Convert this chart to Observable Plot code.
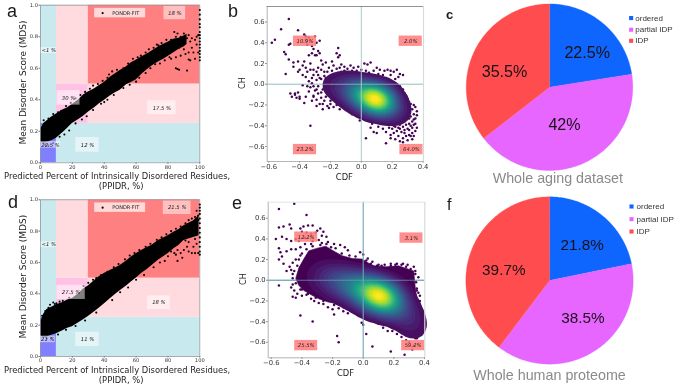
<!DOCTYPE html>
<html><head><meta charset="utf-8">
<script src="https://cdn.jsdelivr.net/npm/d3@7"></script>
<script src="https://cdn.jsdelivr.net/npm/@observablehq/plot@0.6"></script>
<style>
html,body{margin:0;padding:0;background:#fff}
#root{position:relative;width:676px;height:387px;overflow:hidden;filter:blur(.35px)}
.tag{position:absolute;font-family:"Liberation Sans",sans-serif;color:#1a1a1a;line-height:1}
</style></head><body><div id="root"></div>
<script>
// ---------- CH-CDF / PONDR data ----------
const regionNames = ["ordered","lowPPIDR","lowMDS","partial","partialLight","partialLight2","idp"];
const regionX1 = [0,0,10,10,10,30,30];
const regionX2 = [10,10,100,30,30,100,100];
const regionY1 = [0,.25,0,.25,.5,.25,.5];
const regionY2 = [.25,1,.25,.5,1,.5,1];

const aBandX =    [0.5,2,4,7,10,14,17,20,24,27,30,34,37,40,44,47,50,54,57,60,64,67,70,74,77,80,84,87,90,92];
const aBandLow =  [.13,.125,.13,.14,.155,.19,.22,.25,.275,.295,.32,.35,.375,.395,.425,.445,.46,.495,.51,.525,.565,.59,.615,.64,.655,.675,.70,.72,.735,.75];
const aBandHigh = [.22,.25,.265,.29,.31,.335,.35,.37,.40,.43,.45,.47,.49,.51,.545,.565,.585,.61,.635,.65,.675,.69,.71,.735,.75,.765,.785,.79,.805,.815];
const aDots = [[2,.27],[5,.28],[8,.31],[11,.32],[13,.33],[16,.36],[19,.38],[22,.41],[25,.43],[28,.45],[31,.47],[33,.49],[36,.50],[39,.52],[42,.54],[45,.58],[43,.56],[48,.59],[52,.60],[55,.63],[58,.66],[61,.67],[63,.68],[66,.70],[68,.72],[71,.73],[73,.75],[76,.76],[74,.745],[79,.78],[82,.78],[85,.80],[84,.83],[86,.82],[88,.80],[90,.82],[92,.79],[93,.81],[94,.77],[95,.79],[97,.78],[98,.80],[99,.81],[89,.75],[87,.73],[90,.72],[93,.70],[91,.69],[88,.68],[85,.67],[82,.66],[95,.73],[96,.70],[100,.97],[100,.94],[100,.91],[100,.88],[100,.86],[100,.83],[100,.81],[100,.79],[100,.77],[100,.75],[100,.73],[100,.71],[100,.69],[100,.67],[100,.65],[99,.70],[98,.75],[94,.65],[97,.66],[93,.655],[85,.60],[86,.595],[87,.59],[92,.585],[3,.115],[5,.11],[8,.125],[12,.165],[15,.18],[18,.205],[22,.25],[26,.275],[29,.295],[33,.335],[38,.375],[42,.40],[46,.43],[52,.475],[56,.495],[62,.54],[66,.57],[69,.60],[72,.625],[78,.65],[81,.67],[60,.515],[75,.63],[40,.385]];

const dBandX =    [0.5,2,4,7,10,14,17,20,24,27,30,34,37,40,44,47,50,54,57,60,64,67,70,74,77,80,84,87,90,93,96,99.5];
const dBandLow =  [.13,.125,.125,.135,.145,.165,.18,.19,.215,.235,.255,.285,.31,.335,.37,.395,.42,.45,.475,.50,.535,.555,.58,.615,.635,.655,.69,.71,.74,.75,.76,.77];
const dBandHigh = [.23,.27,.30,.315,.33,.345,.36,.37,.40,.43,.45,.485,.51,.53,.55,.565,.58,.61,.635,.655,.68,.695,.71,.74,.755,.77,.795,.81,.835,.85,.865,.90];
const dDots = [[1,.26],[3,.29],[5,.31],[6,.33],[9,.335],[8,.345],[10,.34],[14,.355],[12,.35],[18,.375],[27,.45],[30,.47],[33,.49],[35,.50],[38,.52],[42,.54],[46,.57],[49,.59],[53,.62],[56,.645],[59,.66],[62,.68],[66,.70],[69,.72],[73,.745],[76,.76],[79,.78],[82,.80],[85,.815],[88,.83],[91,.85],[93,.87],[95,.88],[97,.89],[99,.90],[100,.97],[100,.95],[100,.93],[100,.91],[100,.88],[100,.85],[100,.82],[100,.79],[100,.76],[100,.73],[100,.70],[100,.67],[100,.65],[98,.93],[99,.87],[97,.75],[98,.72],[96,.70],[95,.66],[97,.66],[99,.66],[93,.73],[92,.70],[90,.68],[88,.66],[91,.74],[86,.68],[85,.65],[89,.63],[86,.61],[93,.67],[84,.66],[80,.64],[78,.61],[71,.57],[65,.52],[60,.49],[55,.44],[50,.41],[45,.36],[35,.28],[28,.23],[22,.195],[16,.17],[11,.14],[7,.12],[4,.115],[75,.60],[82,.67]];

// density kernels: CDF, CH, weight
const bKernel = [[-.21,.0,.5],[-.15,-.02,.9],[-.09,-.05,1.5],[-.04,-.075,2.4],[.01,-.1,3.8],[.055,-.125,5.5],[.1,-.148,7.5],[.145,-.17,4.6],[.19,-.2,2],[.23,-.24,.8],[.27,-.29,.35]];
const eKernel = [[-.32,.05,.35],[-.26,.03,.8],[-.2,.01,1.3],[-.14,-.02,1.9],[-.08,-.05,2.6],[-.02,-.08,3.6],[.04,-.115,5.2],[.105,-.15,9],[.155,-.18,5],[.2,-.22,2.6],[.25,-.28,1.4],[.3,-.37,.85],[.34,-.47,.7]];

const bDots = [[-.47,.63],[-.52,.53],[-.41,.52],[-.56,.43],[-.58,.40],[-.46,.39],[-.47,.38],[-.37,.48],[-.36,.46],[-.34,.45],[-.36,.43],[-.30,.46],[-.29,.40],[-.27,.42],[-.35,.38],[-.32,.37],[-.31,.34],[-.15,.35],[-.50,.31],[-.49,.29],[-.47,.24],[-.44,.21],[-.41,.22],[-.37,.22],[-.34,.28],[-.32,.30],[-.30,.28],[-.28,.32],[-.29,.28],[-.27,.30],[-.16,.30],[-.15,.26],[-.14,.28],[-.49,.10],[-.44,.17],[-.40,.14],[-.38,.18],[-.36,.16],[-.33,.20],[-.31,.14],[-.28,.16],[-.33,.14],[-.35,.12],[-.38,.09],[-.41,.12],[-.36,.07],[-.31,.09],[-.29,.12],[-.26,.14],[-.25,.19],[-.26,.23],[-.23,.21],[-.21,.16],[-.22,.12],[-.18,.18],[-.16,.15],[-.13,.19],[-.11,.17],[-.09,.15],[-.07,.18],[-.05,.16],[-.02,.17],[0,.14],[.02,.20],[.04,.19],[.06,.21],[.1,.16],[.12,.14],[.15,.13],[.17,.14],[.19,.13],[.21,.12],[.23,.14],[.25,.10],[.27,.09],[.22,.05],[.24,.07],[.19,.09],[.16,.06],[.14,.09],[.11,.10],[.08,.13],[.05,.11],[.01,.10],[-.03,.13],[-.06,.10],[-.1,.11],[-.13,.12],[-.17,.09],[-.2,.08],[-.23,.06],[-.26,.05],[-.29,.04],[-.32,.01],[-.34,.03],[-.38,-.01],[-.33,-.03],[-.30,-.06],[-.28,-.09],[-.31,-.12],[-.26,-.13],[-.24,-.16],[-.27,-.19],[-.29,-.21],[-.22,-.21],[-.2,-.19],[-.18,-.22],[-.25,-.24],[-.15,-.17],[-.12,-.19],[-.14,-.24],[-.1,-.21],[-.08,-.25],[-.06,-.29],[-.03,-.24],[-.05,-.19],[-.02,-.3],[0,-.28],[.02,-.33],[.05,-.35],[.03,-.27],[.07,-.31],[.09,-.36],[.12,-.33],[.14,-.38],[.11,-.41],[.08,-.46],[.1,-.47],[.03,-.52],[.16,-.57],[.16,-.46],[.18,-.42],[.19,-.49],[.21,-.47],[.22,-.53],[.24,-.5],[.25,-.55],[.27,-.52],[.28,-.47],[.3,-.54],[.31,-.49],[.33,-.53],[.34,-.5],[.35,-.45],[.33,-.42],[.3,-.43],[.27,-.41],[.25,-.39],[.22,-.41],[.24,-.36],[.2,-.37],[.18,-.35],[.28,-.36],[.31,-.38],[.33,-.36],[.35,-.33],[.34,-.29],[.36,-.26],[.35,-.22],[.33,-.24],[.31,-.27],[.3,-.22],[.32,-.19],[.28,-.17],[.3,-.14],[.26,-.12],[.28,-.09],[.24,-.08],[.21,-.03],[.17,-.02],[.14,.02],[.1,.04],[.06,.06],[.02,.07],[-.02,.08],[.29,-.31],[.26,-.31],[-.46,-.09],[-.45,-.12],[-.43,-.10],[-.42,-.13],[-.40,-.12],[-.43,-.09],[-.37,-.18],[-.41,-.08],[-.40,-.14],[-.33,-.40],[-.31,-.11],[-.35,-.02],[.18,-.30],[.21,-.33],[.23,-.29],[.35,-.38],[.33,-.47],[-.24,.08],[-.2,.04],[-.16,.06],[-.12,.07],[-.08,.06],[-.28,-.02],[-.25,-.05],[-.22,-.09],[-.19,-.12],[-.16,-.13],[-.13,-.15],[-.1,-.17],[-.07,-.19],[-.04,-.22],[0,-.22],[.04,-.24],[.08,-.27],[.12,-.29],[.16,-.3],[.2,-.27],[.25,-.25],[.28,-.24],[.26,-.18],[.23,-.13],[.2,-.09],[.16,-.06],[.12,-.03],[.08,0],[.03,.02],[-.03,.04]];
const bDotsDense = [[-.19,.13],[-.15,.11],[-.11,.13],[-.09,.09],[-.06,.13],[-.14,.16],[-.21,.06],[-.18,.03],[-.14,.04],[-.1,.05],[-.05,.07],[0,.11],[.03,.13],[.07,.09],[.09,.07],[.13,.05],[.17,.04],[.2,.02],[.25,-.02],[.27,-.05],[.29,-.11],[.31,-.17],[.34,-.2],[.36,-.3],[.34,-.34],[.32,-.31],[.31,-.33],[.29,-.27],[.27,-.28],[.27,-.33],[.25,-.33],[.23,-.33],[.22,-.37],[.26,-.36],[.29,-.39],[.32,-.4],[.34,-.39],[.36,-.42],[.31,-.44],[.28,-.44],[.25,-.43],[.23,-.45],[.2,-.43],[.17,-.39],[.15,-.35],[.12,-.36],[.1,-.32],[.06,-.29],[.02,-.25],[-.01,-.25],[-.05,-.23],[-.09,-.22],[-.12,-.22],[-.16,-.2],[-.2,-.16],[-.23,-.12],[-.26,-.08],[-.29,-.05],[-.31,-.02],[-.27,.06],[-.32,.06],[-.24,.12],[-.19,.22],[-.28,.09],[-.34,-.07],[-.36,-.12],[-.32,-.16],[-.29,-.15],[-.25,-.19],[-.21,-.23],[.19,-.52],[.27,-.56],[.29,-.5],[.32,-.5],[.26,-.46],[.24,-.42],[.21,-.4],[.18,-.38],[.14,-.43],[.13,-.31],[.07,-.38],[.06,-.42],[.01,-.3],[-.01,-.35]];

const eHull = [[-.44,.02],[-.42,.12],[-.39,.2],[-.355,.285],[-.3,.31],[-.245,.33],[-.19,.28],[-.137,.237],[-.07,.21],[-.007,.205],[.03,.17],[.07,.14],[.15,.13],[.23,.14],[.33,.09],[.335,0],[.34,-.07],[.35,-.17],[.36,-.26],[.365,-.4],[.365,-.55],[.32,-.55],[.26,-.49],[.21,-.45],[.15,-.41],[.08,-.37],[.02,-.32],[-.03,-.28],[-.1,-.25],[-.16,-.23],[-.23,-.21],[-.29,-.18],[-.34,-.14],[-.387,-.10],[-.42,-.05]];
const eDots = [[-.45,.74],[-.55,.69],[-.37,.63],[-.55,.51],[-.52,.52],[-.48,.54],[-.47,.5],[-.41,.5],[-.39,.52],[-.36,.53],[-.33,.53],[-.3,.48],[-.28,.5],[-.26,.47],[-.4,.47],[-.37,.46],[-.34,.45],[-.31,.46],[-.27,.43],[-.24,.42],[-.57,.4],[-.53,.42],[-.5,.4],[-.47,.38],[-.44,.4],[-.42,.38],[-.38,.41],[-.33,.38],[-.29,.39],[-.55,.31],[-.54,.27],[-.53,.23],[-.5,.28],[-.47,.3],[-.44,.3],[-.41,.32],[-.38,.35],[-.34,.35],[-.27,.36],[-.23,.37],[-.19,.35],[-.15,.34],[-.12,.32],[-.21,.32],[-.1,.29],[-.02,.27],[0,.25],[.03,.21],[.06,.18],[.1,.15],[-.55,.2],[-.52,.16],[-.48,.13],[-.46,.17],[-.44,.2],[-.41,.24],[-.5,.09],[-.47,.1],[-.46,.06],[-.55,-.05],[-.46,-.04],[-.47,-.07],[-.45,-.1],[-.43,-.13],[-.41,-.09],[-.44,-.17],[-.46,-.16],[-.4,-.15],[-.37,-.14],[-.34,-.18],[-.32,-.2],[-.29,-.22],[-.26,-.23],[-.23,-.26],[-.2,-.28],[-.16,-.27],[-.13,-.3],[-.1,-.32],[-.03,-.33],[.01,-.36],[.04,-.38],[-.19,-.33],[-.41,-.34],[-.33,-.4],[-.17,-.54],[-.16,-.6],[-.01,-.41],[.0,-.43],[.02,-.52],[.06,-.64],[.1,-.42],[.13,-.46],[.16,-.49],[.19,-.49],[.18,-.69],[.22,-.52],[.25,-.55],[.27,-.72],[.3,-.6],[.32,-.67],[.28,-.58],[.34,-.56],[.33,-.63],[.36,.03],[.34,.09],[.33,.13],[.29,.15],[.26,.16],[.22,.16],[.18,.16],[.14,.15],[.36,-.12],[.37,-.2],[.35,-.08],[.37,-.3],[.37,-.38],[.37,-.47],[.36,-.52],[.37,-.15],[-.43,.14],[-.45,.09],[-.46,.02],[-.44,-.03],[-.42,.2],[-.4,.26],[-.37,.3],[-.33,.33],[-.28,.34],[-.24,.35],[-.18,.31],[-.14,.26],[-.09,.24],[-.05,.23],[.02,.19],[.05,.16],[.09,.14],[.12,.14],[.18,.14],[.21,.15],[.25,.15],[.28,.13],[.31,.11],[.34,.06],[.345,-.02],[.35,-.1],[.36,-.2],[.37,-.25],[.375,-.34],[.375,-.43],[.35,-.56],[.3,-.54],[.28,-.52],[.24,-.48],[.19,-.46],[.12,-.4],[.05,-.36],[0,-.32],[-.06,-.28],[-.13,-.26],[-.19,-.24],[-.26,-.2],[-.31,-.17],[-.36,-.13],[-.4,-.09]];

const aLabels = ["18 %","<1 %","30 %","17.5 %","12 %","22.5 %"];
const aLabelX = [84.3,5.2,17.6,76.2,29.5,6.3];
const aLabelY = [.95,.712,.412,.349,.114,.114];
const dLabels = ["21.5 %","<1 %","27.5 %","18 %","11 %","21 %"];
const dLabelX = [85.8,5.2,19.2,74.3,29.5,4.6];
const dLabelY = [.949,.713,.409,.343,.109,.109];
const labelHalfW = {a:[6.8,4.8,7.2,8.9,7.4,6.2],d:[8.7,4.8,8.9,7.2,7.4,4.7]};
const labelHalfH = {a:[.042,.019,.046,.045,.047,.021],d:[.043,.019,.045,.044,.046,.021]};

const bLabels = ["10.9%","2.0%","23.2%","64.0%"];
const bLabelX = [-.365,.32,-.365,.325];
const bLabelY = [.415,.415,-.63,-.63];
const eLabels = ["12.2%","3.1%","25.5%","59.2%"];
const eLabelX = [-.372,.315,-.372,.326];
const eLabelY = [.417,.408,-.632,-.632];

const pieCats = ["ordered","partial IDP","IDP"];
const cValues = [22.5,42,35.5];
const fValues = [21.8,38.5,39.7];
const cText = ["22.5%","42%","35.5%"];
const fText = ["21.8%","38.5%","39.7%"];
const cTextX = [.453,.18,-.54], cTextY = [.408,-.456,.18];
const fTextX = [.39,.40,-.546], fTextY = [.426,-.45,.127];

// ---------- helpers ----------
const root = document.getElementById("root");
const mono = "DejaVu Sans, sans-serif";
function place(svg,left,top){svg.style.position="absolute";svg.style.left=left+"px";svg.style.top=top+"px";svg.style.overflow="visible";svg.style.background="none";svg.style.maxWidth="none";root.appendChild(svg);}
function tag(t,x,y,size,weight){const d=document.createElement("div");d.className="tag";d.textContent=t;d.style.left=x+"px";d.style.top=y+"px";d.style.fontSize=size+"px";if(weight)d.style.fontWeight=weight;root.appendChild(d);}

const regionFill = d3.scaleOrdinal(regionNames,["#8080ff","#c8e9ee","#c8e9ee","#ffc2e4","#ffdadf","#ffdadf","#ff8080"]);

function pondr(opts){
  const {bx,low,high,dots,labels,lx,ly,hw,hh,top,left,keyY} = opts;
  const idx = d3.range(labels.length);
  const plot = Plot.plot({
    width:232,height:195,marginLeft:40,marginRight:32.7,marginTop:opts.mt,marginBottom:195-opts.mb,
    x:{domain:[0,100],axis:null},y:{domain:[0,1],axis:null},
    style:{fontFamily:mono},
    marks:[
      Plot.rect(regionNames,{x1:(d,i)=>regionX1[i],x2:(d,i)=>regionX2[i],y1:(d,i)=>regionY1[i],y2:(d,i)=>regionY2[i],fill:d=>regionFill(d)}),
      Plot.frame({stroke:"#8f9aa0",strokeWidth:.8}),
      Plot.areaY(bx,{x:d=>d,y1:(d,i)=>low[i],y2:(d,i)=>high[i],fill:"#000"}),
      Plot.dot(dots,{x:d=>d[0],y:d=>d[1],r:1.05,fill:"#000"}),
      Plot.rect(idx,{x1:i=>lx[i]-hw[i],x2:i=>lx[i]+hw[i],y1:i=>ly[i]-hh[i],y2:i=>ly[i]+hh[i],fill:"#fff",fillOpacity:.5}),
      Plot.text(idx,{x:i=>lx[i],y:i=>ly[i],text:i=>labels[i],fontSize:5.3,fontStyle:"italic",fill:"#222"}),
      Plot.rect([0],{x1:34,x2:66,y1:keyY-.03,y2:keyY+.03,fill:"#fff",fillOpacity:.7}),
      Plot.dot([0],{x:39,y:keyY,r:1.1,fill:"#000"}),
      Plot.text(["PONDR-FIT"],{x:45,y:keyY,textAnchor:"start",fontSize:5,fill:"#222"}),
      Plot.axisX({ticks:[0,20,40,60,80,100],tickSize:1.5,tickPadding:.5,fontSize:5.2,label:null,stroke:"#777",color:"#333"}),
      Plot.axisY({ticks:[0,.2,.4,.6,.8,1],tickSize:1.5,tickPadding:1,fontSize:5.2,label:null,tickFormat:d3.format(".1f"),stroke:"#777",color:"#333"}),
      Plot.text(["Mean Disorder Score (MDS)"],{frameAnchor:"left",textAnchor:"middle",rotate:-90,dx:-17.5,dy:-1.5,fontSize:9,fill:"#222"}),
      Plot.text(["Predicted Percent of Intrinsically Disordered Residues,"],{frameAnchor:"bottom",textAnchor:"middle",dy:opts.xl1,dx:-3,fontSize:8.4,fill:"#222"}),
      Plot.text(["(PPIDR, %)"],{frameAnchor:"bottom",textAnchor:"middle",dy:opts.xl2,dx:1,fontSize:8.4,fill:"#222"})
    ]
  });
  place(plot,left,top);
}

function chcdf(opts){
  const {kernel,hull,dots,labels,lx,ly,left,top,w,h,ml,mt,xd,yd,ruleStroke} = opts;
  const idx = d3.range(labels.length);
  const plot = Plot.plot({
    width:w,height:h,marginLeft:ml,marginRight:w-opts.pr,marginTop:mt,marginBottom:h-opts.pb,
    x:{domain:xd,axis:null},y:{domain:yd,axis:null},
    color:{scheme:"viridis",type:"linear"},
    style:{fontFamily:mono},
    marks:[
      Plot.ruleY([0],{stroke:ruleStroke,strokeWidth:1.1}),
      ...(hull?[Plot.line(hull,{x:d=>d[0],y:d=>d[1],curve:"linear-closed",fill:"#440154",stroke:"#440154",strokeWidth:.6})]:[]),
      Plot.dot(dots,{x:d=>d[0],y:d=>d[1],r:1.25,fill:"#440154"}),
      Plot.density(kernel,{x:d=>d[0],y:d=>d[1],weight:d=>d[2],bandwidth:opts.bw,thresholds:opts.th,fill:"density",stroke:null}),
      Plot.ruleX([0],{stroke:ruleStroke,strokeWidth:opts.vw,strokeOpacity:opts.vo}),
      Plot.ruleY([0],{stroke:ruleStroke,strokeWidth:1.1,strokeOpacity:opts.vo*.7}),
      Plot.rect(idx,{x1:i=>lx[i]-opts.bhw,x2:i=>lx[i]+opts.bhw,y1:i=>ly[i]-.05,y2:i=>ly[i]+.05,fill:"#ff7b7b",fillOpacity:.85}),
      Plot.text(idx,{x:i=>lx[i],y:i=>ly[i],text:i=>labels[i],fontSize:5.3,fontStyle:"italic",fill:"#3a1a20"}),
      Plot.axisX({ticks:[-.6,-.4,-.2,0,.2,.4],tickSize:1.5,tickPadding:1,fontSize:6.8,label:null,tickFormat:d3.format(".1f"),stroke:"#777",color:"#333"}),
      Plot.axisY({ticks:[-.6,-.4,-.2,0,.2,.4,.6],tickSize:1.5,tickPadding:1,fontSize:6.8,label:null,tickFormat:d3.format(".1f"),stroke:"#777",color:"#333"}),
      Plot.ruleX([xd[0]],{stroke:"#9aa0a3",strokeWidth:.8}),
      Plot.ruleX([xd[1]],{stroke:"#d4dcdc",strokeWidth:1.2}),
      Plot.ruleY([yd[0]],{stroke:"#9aa5aa",strokeWidth:.8}),
      Plot.ruleY([yd[1]],{stroke:opts.topStroke,strokeWidth:.8}),
      Plot.text(["CH"],{frameAnchor:"left",textAnchor:"middle",rotate:-90,dx:-25,dy:-1,fontSize:8.2,fill:"#222"}),
      Plot.text(["CDF"],{frameAnchor:"bottom",textAnchor:"middle",dy:opts.xl,dx:-1,fontSize:8.4,fill:"#222"})
    ]
  });
  place(plot,left,top);
}

function pie(opts){
  const {values,texts,tx,ty,left,top,cx,cy,R,title,titleX,titleY,legendY,legendX,legendTX} = opts;
  const w=236,h=195;
  const wedge=[];
  let acc=0;
  values.forEach((v,i)=>{
    const a0=acc/100*2*Math.PI; acc+=v; const a1=acc/100*2*Math.PI;
    wedge.push({c:pieCats[i],x:0,y:0});
    for(let a=a0;a<a1;a+=Math.PI/180) wedge.push({c:pieCats[i],x:Math.sin(a),y:Math.cos(a)});
    wedge.push({c:pieCats[i],x:Math.sin(a1),y:Math.cos(a1)});
  });
  const idx=d3.range(3);
  const plot=Plot.plot({
    width:w,height:h,margin:0,
    x:{domain:[-cx/R,(w-cx)/R],range:[0,w],axis:null},
    y:{domain:[-(h-cy)/R,cy/R],range:[h,0],axis:null},
    color:{domain:pieCats,range:["#0f66ff","#e666ff","#ff4d4f"]},
    marks:[
      Plot.line(wedge,{x:"x",y:"y",z:"c",fill:"c",stroke:"c",strokeWidth:.3,curve:"linear-closed"}),
      Plot.text(idx,{x:i=>tx[i],y:i=>ty[i],text:i=>texts[i],fontFamily:"Liberation Sans, Arial, sans-serif",fontSize:opts.fs,fill:"#1a1016"}),
      Plot.dot(idx,{x:()=>legendX,y:i=>legendY[i],symbol:"square",r:2.3,fill:i=>pieCats[i]}),
      Plot.text(idx,{x:()=>legendTX,y:i=>legendY[i],text:i=>pieCats[i],textAnchor:"start",fontFamily:"Liberation Sans, Arial, sans-serif",fontSize:8,fill:"#333"}),
      Plot.text([title],{x:titleX,y:titleY,fontFamily:"Liberation Sans, Arial, sans-serif",fontSize:14.3,fill:"#8a8a8a"})
    ]
  });
  place(plot,left,top);
}

pondr({bx:aBandX,low:aBandLow,high:aBandHigh,dots:aDots,labels:aLabels,lx:aLabelX,ly:aLabelY,hw:labelHalfW.a,hh:labelHalfH.a,left:0,top:0,mt:4.7,mb:162.3,keyY:.95,xl1:16.5,xl2:26.5});
pondr({bx:dBandX,low:dBandLow,high:dBandHigh,dots:dDots,labels:dLabels,lx:dLabelX,ly:dLabelY,hw:labelHalfW.d,hh:labelHalfH.d,left:0,top:190,mt:9.3,mb:166,keyY:.95,xl1:16.5,xl2:26.5});

chcdf({kernel:bKernel,dots:bDots.concat(bDotsDense),labels:bLabels,lx:bLabelX,ly:bLabelY,left:225,top:0,w:220,h:195,ml:41.7,mt:6,pr:198,pb:161,xd:[-.61,.403],yd:[-.745,.75],ruleStroke:"#a8c9cc",vw:1.1,vo:.9,bw:8,th:24,bhw:.075,xl:18,topStroke:"#777"});
chcdf({kernel:eKernel,hull:eHull,dots:eDots,labels:eLabels,lx:eLabelX,ly:eLabelY,left:225,top:190,w:220,h:197,ml:42.7,mt:11.7,pr:199.3,pb:167.3,xd:[-.62,.402],yd:[-.75,.755],ruleStroke:"#6fa3b5",vw:1.1,vo:1,bw:9,th:28,bhw:.075,xl:18,topStroke:"#d8dfe0"});

pie({values:cValues,texts:cText,tx:cTextX,ty:cTextY,left:440,top:0,cx:109,cy:86.7,R:83.3,fs:16.1,title:"Whole aging dataset",titleX:.1,titleY:-1.097,legendY:[.83,.69,.557],legendX:.98,legendTX:1.03});
pie({values:fValues,texts:fText,tx:fTextX,ty:fTextY,left:440,top:190,cx:109,cy:90,R:83.7,fs:15.3,title:"Whole human proteome",titleX:0,titleY:-1.135,legendY:[.884,.733,.585],legendX:.98,legendTX:1.04});

tag("a",7,2,18);tag("b",228,2,18);tag("c",446,8,13,"bold");tag("d",8,193,18);tag("e",232,194,18);tag("f",447,197,16);
</script></body></html>
